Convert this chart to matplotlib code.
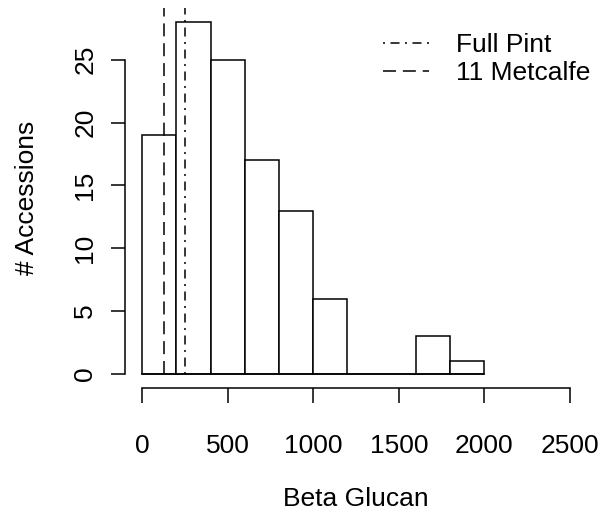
import matplotlib
matplotlib.use("Agg")
import matplotlib.pyplot as plt
import numpy as np

plt.rcParams['font.family'] = ['Liberation Sans', 'DejaVu Sans']

bin_edges = [0, 200, 400, 600, 800, 1000, 1200, 1400, 1600, 1800, 2000]
counts = [19, 28, 25, 17, 13, 6, 0, 0, 3, 1]
full_pint = 250
metcalfe = 130
xticks = [0, 500, 1000, 1500, 2000, 2500]
yticks = [0, 5, 10, 15, 20, 25]

fig = plt.figure(figsize=(6.0, 5.12), dpi=100)
ax = fig.add_axes([125/600, 1-388/512, (587-125)/600, (388-8)/512])

fs = 19
lw = 1.1
lefts = bin_edges[:-1]
widths = np.diff(bin_edges)
ax.bar(lefts, counts, width=widths, align='edge', facecolor='white',
       edgecolor='black', linewidth=lw)
ax.plot([bin_edges[0], bin_edges[-1]], [0, 0], color='black', lw=lw)

ax.set_xlim(-100, 2600)
ax.set_ylim(-1.12, 29.12)
top = 29.12
ax.plot([full_pint, full_pint], [0, top], color='black', lw=lw,
        dashes=(1.3, 3.6, 5.9, 3.6), label='Full Pint')
ax.plot([metcalfe, metcalfe], [0, top], color='black', lw=lw,
        dashes=(8.5, 4.5), label='11 Metcalfe')

for s in ['top', 'right']:
    ax.spines[s].set_visible(False)
for s in ['bottom', 'left']:
    ax.spines[s].set_linewidth(lw)
ax.spines['bottom'].set_bounds(0, 2500)
ax.spines['left'].set_bounds(0, 25)
ax.set_xticks(xticks)
ax.set_yticks(yticks)
ax.set_yticklabels([str(v) for v in yticks], rotation=90, va='center')
ax.tick_params(axis='x', direction='out', length=11, width=lw,
               labelsize=fs, pad=22)
ax.tick_params(axis='y', direction='out', length=10, width=lw,
               labelsize=fs, pad=10)
ax.set_xlabel('Beta Glucan', fontsize=fs, labelpad=21)
ax.set_ylabel('# Accessions', fontsize=fs, labelpad=25)

leg = fig.legend(handles=ax.get_lines()[1:], loc='upper left',
                 bbox_to_anchor=(383/600, 1-33/512), frameon=False,
                 fontsize=fs, handlelength=1.75, handletextpad=1.0,
                 labelspacing=0.15, borderpad=0.0, borderaxespad=0.0)

fig.savefig('out.png', dpi=100)
